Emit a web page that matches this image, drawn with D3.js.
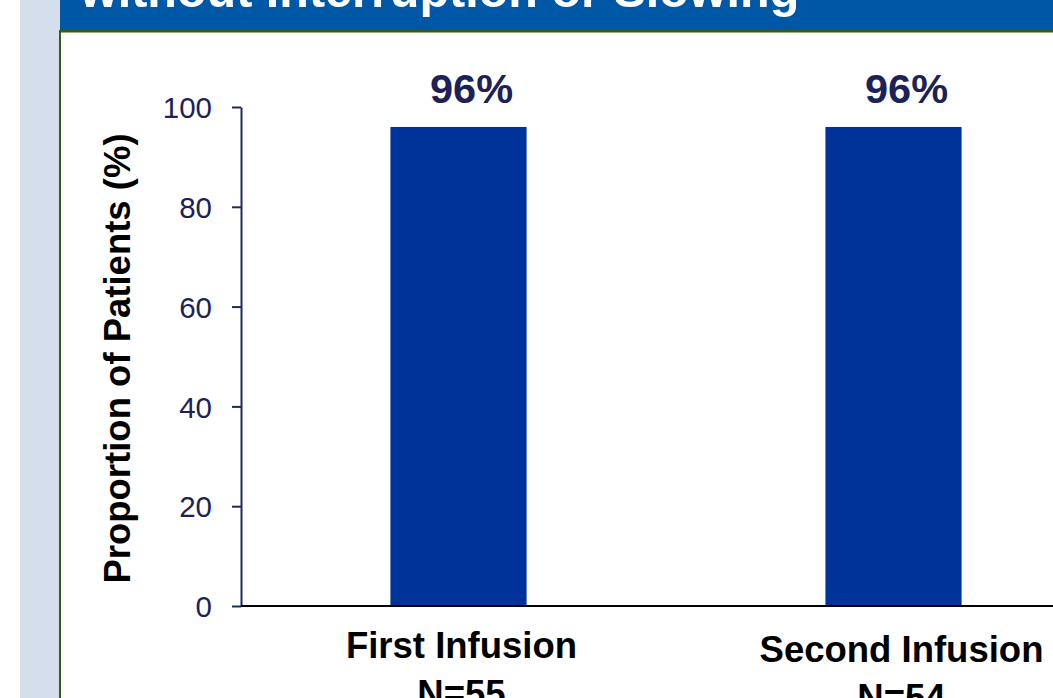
<!DOCTYPE html>
<html>
<head>
<meta charset="utf-8">
<script src="https://cdn.jsdelivr.net/npm/d3@7"></script>
<style>
  html, body { margin: 0; padding: 0; background: #fff; }
  svg { display: block; font-family: Arial, "Liberation Sans", sans-serif; }
</style>
</head>
<body>
<svg id="chart" width="1053" height="698"></svg>
<script>
// data
const categories = ['First Infusion', 'Second Infusion'];
const sampleSizes = ['N=55', 'N=54'];
const values = [96, 96];
const yTicks = [0, 20, 40, 60, 80, 100];
const title = 'without Interruption or Slowing';
const yTitle = 'Proportion of Patients (%)';

const W = 1053, H = 698;
const svg = d3.select('#chart');

// slide frame
svg.append('rect').attr('x', 20).attr('y', 0).attr('width', 40).attr('height', H).attr('fill', '#d4deed');
svg.append('rect').attr('x', 60).attr('y', 0).attr('width', W - 60).attr('height', 31).attr('fill', '#0057a6');
svg.append('rect').attr('x', 60).attr('y', 30).attr('width', W - 60).attr('height', 2).attr('fill', '#3b5a12');
svg.append('rect').attr('x', 60).attr('y', 32).attr('width', W - 60).attr('height', 1).attr('fill', '#9aab88');
svg.append('rect').attr('x', 59).attr('y', 30).attr('width', 2).attr('height', H - 30).attr('fill', '#3b5a12');

svg.append('text')
  .attr('x', 80).attr('y', 7)
  .attr('fill', '#fff')
  .attr('font-weight', 'bold')
  .attr('font-size', 48.5)
  .text(title);

const margin = { left: 241, top: 107, bottom: 606 };

const x = d3.scaleBand()
  .domain(categories)
  .range([margin.left, margin.left + 870])
  .paddingInner(0.687)
  .paddingOuter(0.3435);

const y = d3.scaleLinear()
  .domain([0, 100])
  .range([margin.bottom, margin.top]);

// y axis
const yAxis = svg.append('g')
  .attr('transform', `translate(${margin.left},0)`)
  .call(d3.axisLeft(y).tickValues(yTicks).tickSize(9).tickSizeOuter(0).tickPadding(20));
yAxis.select('.domain').attr('stroke', '#1f2a5c').attr('stroke-width', 2);
yAxis.selectAll('.tick line').attr('stroke', '#1f2a5c').attr('stroke-width', 2);
yAxis.selectAll('.tick text')
  .attr('fill', '#1c2257')
  .attr('font-size', 29.5)
  .attr('font-family', 'Arial, "Liberation Sans", sans-serif')
  .attr('dy', '0.36em');

// bars
svg.selectAll('.bar')
  .data(values)
  .join('rect')
  .attr('class', 'bar')
  .attr('x', (d, i) => x(categories[i]))
  .attr('y', d => y(d))
  .attr('width', x.bandwidth())
  .attr('height', d => y(0) - y(d))
  .attr('fill', '#003399');

// x axis baseline
svg.append('line')
  .attr('x1', margin.left).attr('x2', W)
  .attr('y1', y(0)).attr('y2', y(0))
  .attr('stroke', '#000').attr('stroke-width', 2);

// value labels
svg.selectAll('.val')
  .data(values)
  .join('text')
  .attr('class', 'val')
  .attr('x', (d, i) => x(categories[i]) + x.bandwidth() / 2 + 13)
  .attr('y', 103)
  .attr('text-anchor', 'middle')
  .attr('font-weight', 'bold')
  .attr('font-size', 41.5)
  .attr('fill', '#1c2257')
  .text(d => d + '%');

// category labels
const cat = svg.selectAll('.cat')
  .data(categories)
  .join('text')
  .attr('class', 'cat')
  .attr('text-anchor', 'middle')
  .attr('font-weight', 'bold')
  .attr('font-size', 36.5)
  .attr('fill', '#000');
cat.append('tspan')
  .attr('x', (d, i) => x(d) + x.bandwidth() / 2 + 3 + i * 5)
  .attr('y', (d, i) => 658 + i * 4)
  .text(d => d);
cat.append('tspan')
  .attr('x', (d, i) => x(d) + x.bandwidth() / 2 + 3 + i * 5)
  .attr('dy', 48)
  .text((d, i) => sampleSizes[i]);

// y axis title
svg.append('text')
  .attr('transform', `translate(130,${(132 + 585) / 2}) rotate(-90)`)
  .attr('text-anchor', 'middle')
  .attr('font-weight', 'bold')
  .attr('font-size', 36.5)
  .attr('fill', '#000')
  .text(yTitle);
</script>
</body>
</html>
